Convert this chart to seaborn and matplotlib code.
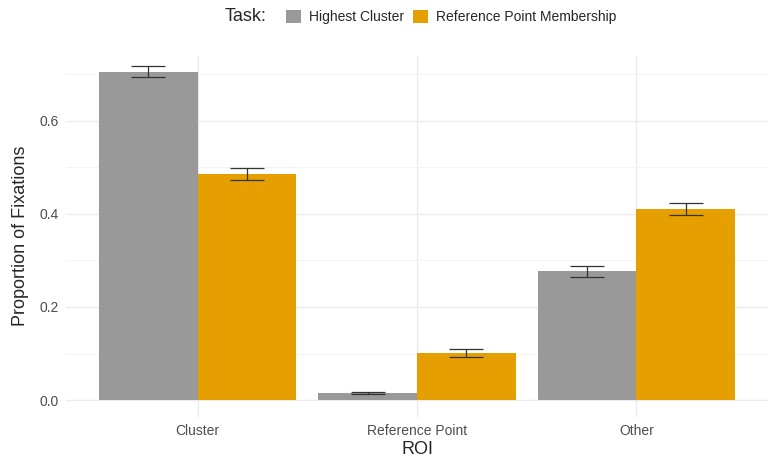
import pandas as pd
import matplotlib
matplotlib.use("Agg")
import matplotlib.pyplot as plt
import seaborn as sns
from matplotlib.patches import Patch

# Datos
roi = ["Cluster", "Reference Point", "Other"]
tareas = ["Highest Cluster", "Reference Point Membership"]
media_highest = [0.706, 0.016, 0.277]
media_refpoint = [0.486, 0.101, 0.411]
se_highest = [0.012, 0.002, 0.0115]
se_refpoint = [0.012, 0.008, 0.013]
colores = ["#999999", "#E69F00"]

df = pd.DataFrame({
    "ROI": roi * 2,
    "Task": [tareas[0]] * 3 + [tareas[1]] * 3,
    "prop": media_highest + media_refpoint,
    "se": se_highest + se_refpoint,
})

sns.set_style("white")
plt.rcParams["font.family"] = ["Liberation Sans", "DejaVu Sans"]

fig = plt.figure(figsize=(7.68, 4.57), dpi=100)
ax = fig.add_axes([0.086, 0.088, 0.914, 0.79])

sns.barplot(data=df, x="ROI", y="prop", hue="Task", order=roi, hue_order=tareas,
            palette=colores, errorbar=None, width=0.9, saturation=1,
            edgecolor="none", linewidth=0, legend=False, ax=ax, zorder=2)

# Barras de error sobre cada barra
for i, tarea in enumerate(tareas):
    sub = df[df["Task"] == tarea].set_index("ROI").loc[roi]
    barras = ax.containers[i]
    xs = [b.get_x() + b.get_width() / 2 for b in barras]
    ax.errorbar(xs, sub["prop"], yerr=sub["se"], fmt="none", ecolor="#333333",
                elinewidth=0.9, capsize=12, capthick=0.9, zorder=3)

ax.set_xlim(-0.6, 2.6)
ax.set_ylim(-0.036, 0.74)
ax.set_yticks([0.0, 0.2, 0.4, 0.6])
ax.set_yticklabels(["0.0", "0.2", "0.4", "0.6"])
ax.set_yticks([0.1, 0.3, 0.5, 0.7], minor=True)
ax.grid(True, which="major", color="#EBEBEB", linewidth=1.0, zorder=0)
ax.grid(True, which="minor", axis="y", color="#F3F3F3", linewidth=0.6, zorder=0)
ax.set_axisbelow(True)
for s in ax.spines.values():
    s.set_visible(False)
ax.tick_params(axis="both", which="major", length=3, width=0.8, color="#555555",
               labelcolor="#4D4D4D", labelsize=10, pad=2)
ax.tick_params(axis="y", which="minor", length=0)
ax.set_xlabel("ROI", fontsize=13, labelpad=2)
ax.set_ylabel("Proportion of Fixations", fontsize=13, labelpad=8)

# Leyenda arriba
fig.text(0.293, 0.963, "Task:", fontsize=13, ha="left", va="center")
handles = [Patch(facecolor=c, edgecolor="none") for c in colores]
fig.legend(handles, tareas, ncol=2, loc="center left", bbox_to_anchor=(0.372, 0.963),
           frameon=False, fontsize=10, handlelength=1.1, handleheight=1.1,
           handletextpad=0.6, columnspacing=0.6, borderaxespad=0, borderpad=0)

fig.savefig("out.png", dpi=100)
